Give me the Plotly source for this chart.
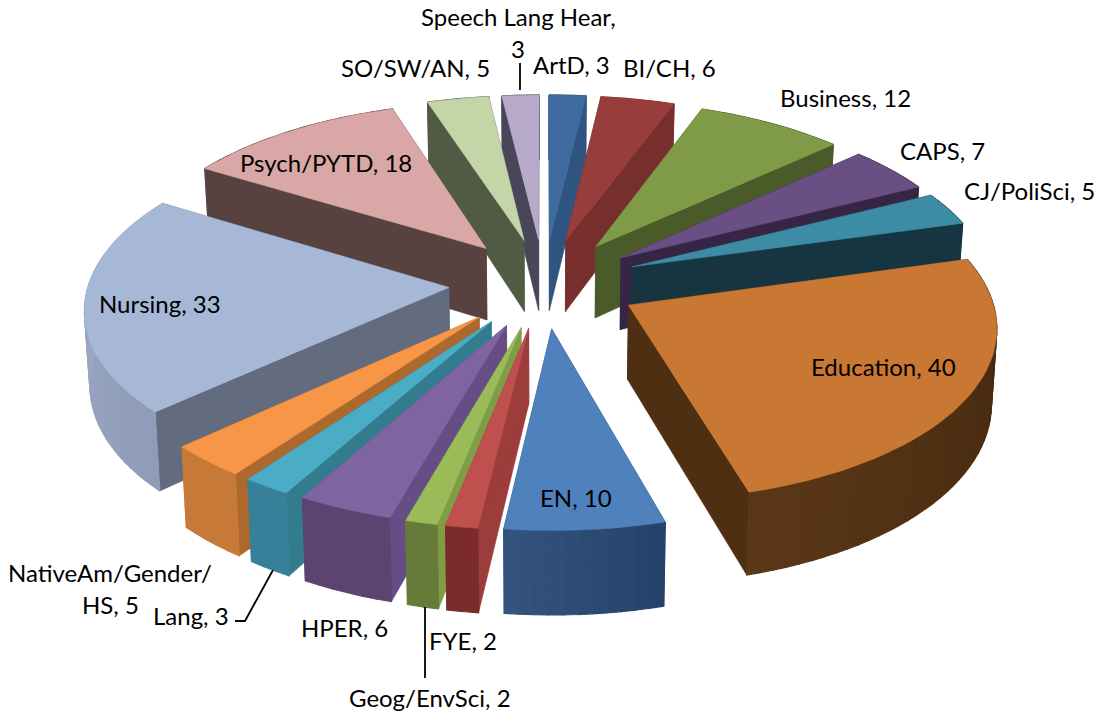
import math
import plotly.graph_objects as go

categories = ["ArtD", "BI/CH", "Business", "CAPS", "CJ/PoliSci", "Education", "EN", "FYE",
              "Geog/EnvSci", "HPER", "Lang", "NativeAm/Gender/HS", "Nursing", "Psych/PYTD",
              "SO/SW/AN", "Speech Lang Hear"]
values = [3, 6, 12, 7, 5, 40, 10, 2, 2, 6, 3, 5, 33, 18, 5, 3]
top_colors = ["#3E6A9F", "#973D3B", "#7F9B47", "#6A4F84", "#3D8CA5", "#C97833", "#4F81BD", "#C0504D",
              "#9BBB59", "#8064A2", "#4BACC6", "#F79646", "#A7B8D7", "#D9A7A6", "#C4D5A8", "#B8ABC9"]
wall_colors = ["#2F5480", "#772F2E", "#4B5A29", "#362544", "#173540", "#4F2F12", "#2C4A70", "#9C3D3B",
               "#7F9C47", "#674D85", "#327C8E", "#AD682E", "#626C7E", "#574240", "#515A43", "#49465A"]
rim_start = ["#2F5480", "#772F2E", "#4B5A29", "#362544", "#173540", "#3F250D", "#26426A", "#7B2C2A",
             "#667B3A", "#5C4370", "#37809A", "#C77A38", "#8E9CB8", "#574240", "#515A43", "#49465A"]
rim_end = ["#2F5480", "#772F2E", "#4B5A29", "#362544", "#173540", "#5A3717", "#33547E", "#7B2C2A",
           "#667B3A", "#5C4370", "#37809A", "#C77A38", "#A3B1CC", "#574240", "#515A43", "#49465A"]

CX, CY = 544.0, 283.0
A, B, C = 360.0, 169.0, 0.108
EXPLODE = 0.265
H = 73.0
BOTTOM_X = 0.988


def project(X, Y, bottom=False):
    s = 1.0 / (1.0 + C * Y)
    px = A * X * s
    py = -B * Y * s
    if bottom:
        px *= BOTTOM_X
        py += H * s
    return CX + px, CY + py


def mix(c1, c2, t):
    a = [int(c1[i:i + 2], 16) for i in (1, 3, 5)]
    b = [int(c2[i:i + 2], 16) for i in (1, 3, 5)]
    return "rgb(%d,%d,%d)" % tuple(round(p + (q - p) * t) for p, q in zip(a, b))


def poly(pts, color, width=0.6):
    xs = [p[0] for p in pts] + [pts[0][0]]
    ys = [p[1] for p in pts] + [pts[0][1]]
    return go.Scatter(x=xs, y=ys, mode="lines", fill="toself", fillcolor=color,
                      line=dict(color=color, width=width), hoverinfo="skip", showlegend=False)


total = sum(values)
slices = []
acc = 0
for i, v in enumerate(values):
    t0 = acc / total * 2 * math.pi
    acc += v
    t1 = acc / total * 2 * math.pi
    slices.append((i, t0, t1))

fig = go.Figure()
for i, t0, t1 in sorted(slices, key=lambda s: -math.cos((s[1] + s[2]) / 2)):
    mid = (t0 + t1) / 2
    ox, oy = EXPLODE * math.sin(mid), EXPLODE * math.cos(mid)
    n = max(2, int((t1 - t0) / math.radians(2)))
    ang = [t0 + (t1 - t0) * k / n for k in range(n + 1)]
    rim = [(ox + math.sin(a), oy + math.cos(a)) for a in ang]
    apex = (ox, oy)
    for end in (rim[0], rim[-1]):
        fig.add_trace(poly([project(*apex), project(*end), project(*end, True), project(*apex, True)],
                           wall_colors[i]))
    for k in range(n):
        col = mix(rim_start[i], rim_end[i], k / max(1, n - 1))
        fig.add_trace(poly([project(*rim[k]), project(*rim[k + 1]),
                            project(*rim[k + 1], True), project(*rim[k], True)], col, 1.2))
    fig.add_trace(poly([project(*apex)] + [project(*p) for p in rim], top_colors[i]))

labels = [("Speech Lang Hear,", 518, 16), ("3", 518, 48), ("ArtD, 3", 571, 64), ("BI/CH, 6", 669, 67),
          ("Business, 12", 845, 97), ("CAPS, 7", 942, 150), ("CJ/PoliSci, 5", 1029, 190),
          ("Education, 40", 883, 366), ("EN, 10", 576, 497), ("FYE, 2", 463, 640),
          ("Geog/EnvSci, 2", 430, 697), ("HPER, 6", 344, 627), ("Lang, 3", 191, 615),
          ("NativeAm/Gender/", 110, 572), ("HS, 5", 110, 604), ("Nursing, 33", 160, 303),
          ("Psych/PYTD, 18", 326, 162), ("SO/SW/AN, 5", 415, 67)]
for text, x, y in labels:
    fig.add_annotation(x=x, y=y, text=text, showarrow=False, xanchor="center", yanchor="middle",
                       font=dict(family="Lato", size=24, color="#000000"))

leaders = [[(520, 63), (520, 90)], [(235, 621), (245, 621), (273, 570)], [(425, 607), (425, 678)]]
for seg in leaders:
    fig.add_trace(go.Scatter(x=[p[0] for p in seg], y=[p[1] for p in seg], mode="lines",
                             line=dict(color="#000000", width=1.8), hoverinfo="skip", showlegend=False))

fig.update_layout(width=1095, height=711, margin=dict(l=0, r=0, t=0, b=0),
                  paper_bgcolor="#FFFFFF", plot_bgcolor="#FFFFFF", showlegend=False,
                  xaxis=dict(range=[0, 1095], visible=False, fixedrange=True),
                  yaxis=dict(range=[711, 0], visible=False, fixedrange=True))
fig.write_html("out.html", config={"displayModeBar": False},
               post_script="document.body.style.margin='0';document.body.style.overflow='hidden';")
